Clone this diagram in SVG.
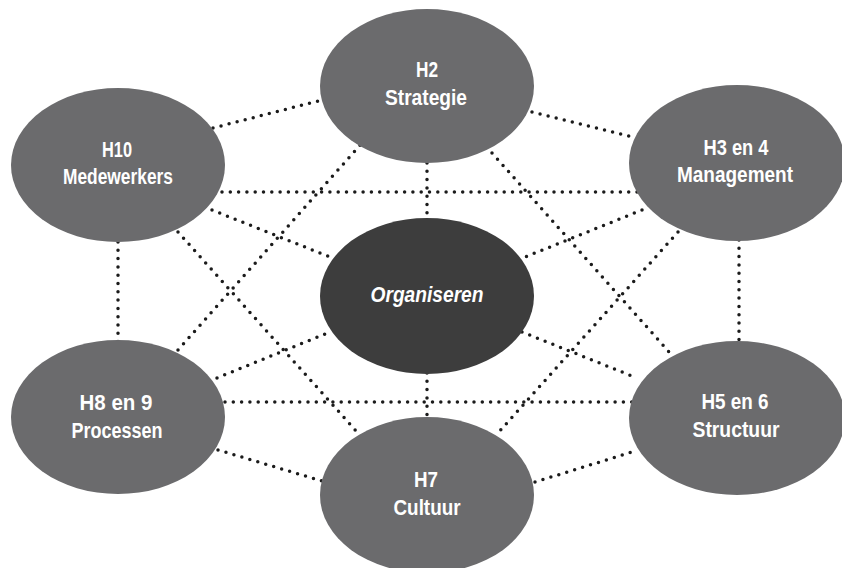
<svg xmlns="http://www.w3.org/2000/svg" width="842" height="568" viewBox="0 0 842 568">
  <style>
    .link { fill: none; stroke: #1b1b1b; stroke-width: 3.5; stroke-linecap: round; stroke-dasharray: 0 8.3; }
    .topic { fill: #6b6b6d; }
    .core { fill: #3d3d3d; }
    .label { fill: #ffffff; font-family: "Liberation Sans", Arial, sans-serif; font-weight: bold; font-size: 22px; text-anchor: middle; }
    .italic { font-style: italic; }
  </style>
  <rect width="842" height="568" fill="#ffffff"/>

  <!-- dotted connections between the chapters -->
  <g id="connectors">
    <line class="link" x1="213" y1="128" x2="322" y2="100"/>
    <line class="link" x1="532" y1="112" x2="633" y2="137"/>
    <line class="link" x1="222" y1="192" x2="640" y2="192"/>
    <line class="link" x1="212" y1="210" x2="330" y2="257"/>
    <line class="link" x1="178" y1="232" x2="357" y2="432"/>
    <line class="link" x1="178" y1="350" x2="362" y2="143"/>
    <line class="link" x1="217" y1="378" x2="330" y2="332"/>
    <line class="link" x1="225" y1="402" x2="632" y2="402"/>
    <line class="link" x1="218" y1="450" x2="322" y2="481"/>
    <line class="link" x1="118" y1="242" x2="118" y2="342"/>
    <line class="link" x1="739" y1="240" x2="739" y2="342"/>
    <line class="link" x1="642" y1="210" x2="525" y2="257"/>
    <line class="link" x1="678" y1="232" x2="498" y2="433"/>
    <line class="link" x1="492" y1="153" x2="670" y2="353"/>
    <line class="link" x1="427" y1="163" x2="427" y2="220"/>
    <line class="link" x1="427" y1="373" x2="427" y2="420"/>
    <line class="link" x1="522" y1="332" x2="637" y2="378"/>
    <line class="link" x1="535" y1="482" x2="632" y2="452"/>
  </g>

  <g id="strategie">
    <ellipse class="topic" cx="427" cy="86" rx="107" ry="77"/>
    <text class="label" x="427" y="77" textLength="22" lengthAdjust="spacingAndGlyphs">H2</text>
    <text class="label" x="426" y="105" textLength="82" lengthAdjust="spacingAndGlyphs">Strategie</text>
  </g>

  <g id="medewerkers">
    <ellipse class="topic" cx="118" cy="165" rx="107" ry="77"/>
    <text class="label" x="117" y="157" textLength="30" lengthAdjust="spacingAndGlyphs">H10</text>
    <text class="label" x="118" y="184" textLength="110" lengthAdjust="spacingAndGlyphs">Medewerkers</text>
  </g>

  <g id="management">
    <ellipse class="topic" cx="737" cy="163" rx="108" ry="78"/>
    <text class="label" x="736" y="155" textLength="65" lengthAdjust="spacingAndGlyphs">H3 en 4</text>
    <text class="label" x="735" y="182" textLength="116" lengthAdjust="spacingAndGlyphs">Management</text>
  </g>

  <g id="organiseren">
    <ellipse class="core" cx="427" cy="296" rx="107" ry="78"/>
    <text class="label italic" x="427" y="302" textLength="113" lengthAdjust="spacingAndGlyphs">Organiseren</text>
  </g>

  <g id="processen">
    <ellipse class="topic" cx="118" cy="417" rx="107" ry="77"/>
    <text class="label" x="116" y="410" textLength="73" lengthAdjust="spacingAndGlyphs">H8 en 9</text>
    <text class="label" x="117" y="438" textLength="91" lengthAdjust="spacingAndGlyphs">Processen</text>
  </g>

  <g id="structuur">
    <ellipse class="topic" cx="737" cy="418" rx="108" ry="77"/>
    <text class="label" x="735" y="409" textLength="67" lengthAdjust="spacingAndGlyphs">H5 en 6</text>
    <text class="label" x="736" y="437" textLength="87" lengthAdjust="spacingAndGlyphs">Structuur</text>
  </g>

  <g id="cultuur">
    <ellipse class="topic" cx="427" cy="495" rx="107" ry="78"/>
    <text class="label" x="426" y="487" textLength="24" lengthAdjust="spacingAndGlyphs">H7</text>
    <text class="label" x="427" y="515" textLength="67" lengthAdjust="spacingAndGlyphs">Cultuur</text>
  </g>
</svg>
